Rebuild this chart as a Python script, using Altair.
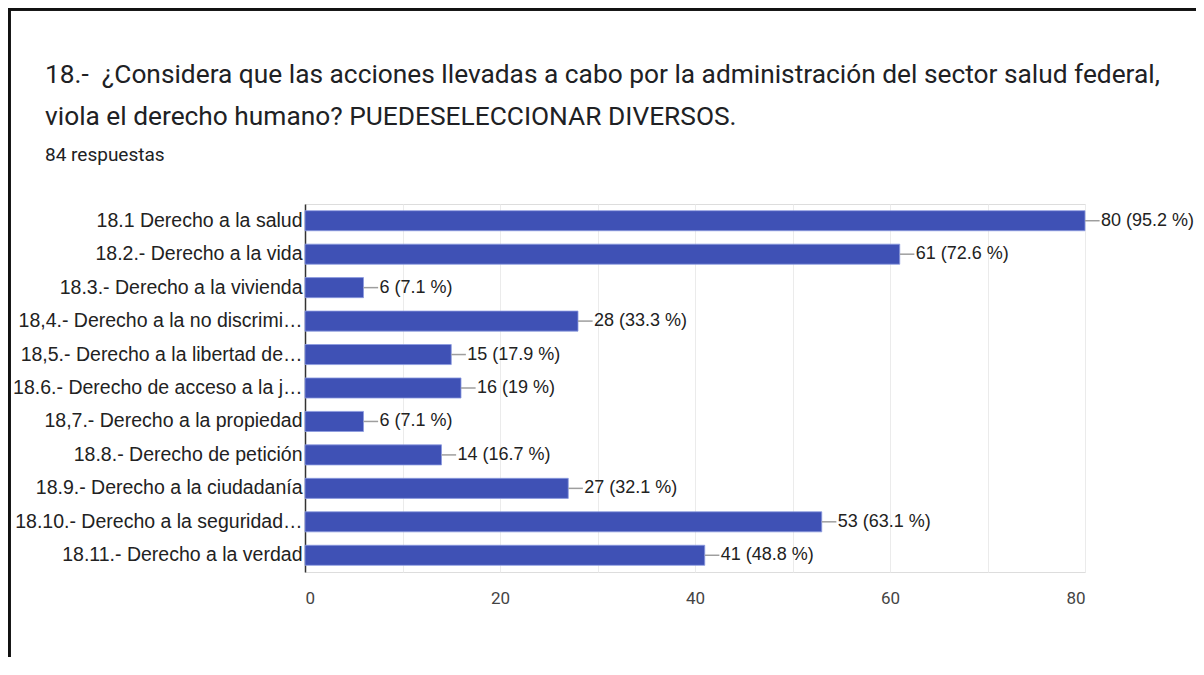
import altair as alt
import pandas as pd

categories = [
    "18.1 Derecho a la salud",
    "18.2.- Derecho a la vida",
    "18.3.- Derecho a la vivienda",
    "18,4.- Derecho a la no discrimi…",
    "18,5.- Derecho a la libertad de…",
    "18.6.- Derecho de acceso a la j…",
    "18,7.- Derecho a la propiedad",
    "18.8.- Derecho de petición",
    "18.9.- Derecho a la ciudadanía",
    "18.10.- Derecho a la seguridad…",
    "18.11.- Derecho a la verdad",
]
counts = [80, 61, 6, 28, 15, 16, 6, 14, 27, 53, 41]
percents = ["95.2", "72.6", "7.1", "33.3", "17.9", "19", "7.1", "16.7", "32.1", "63.1", "48.8"]
x_ticks = [0, 10, 20, 30, 40, 50, 60, 70, 80]
title_line1 = "18.-\u00a0 ¿Considera que las acciones llevadas a cabo por la administración del sector salud federal,"
title_line2 = "viola el derecho humano? PUEDESELECCIONAR DIVERSOS."
subtitle = "84 respuestas"

df = pd.DataFrame({
    "cat": categories,
    "count": counts,
    "label": [f"{c} ({p} %)" for c, p in zip(counts, percents)],
})

FONT = "Roboto"
LFONT = "Liberation Sans"
BAR = "#3f51b5"

base = alt.Chart(df)

y_enc = alt.Y(
    "cat:N", sort=categories, title=None,
    scale=alt.Scale(paddingInner=0.4, paddingOuter=0.2),
    axis=alt.Axis(labelFontSize=19.5, labelColor="#222222", labelFont=LFONT,
                  labelLimit=400, labelPadding=3, ticks=False,
                  domain=True, domainColor="#333333", domainWidth=1.5),
)
x_enc = alt.X(
    "count:Q", title=None,
    scale=alt.Scale(domain=[0, 80], nice=False),
    axis=alt.Axis(values=x_ticks, labelExpr="datum.value % 20 == 0 ? datum.label : ''",
                  grid=True, gridColor="#ebebeb", domain=False, ticks=False,
                  labelFontSize=17, labelColor="#444444", labelFont=FONT,
                  labelPadding=18),
)

bars = base.mark_bar(color=BAR, stroke="#8c9ae0", strokeWidth=0.8).encode(x=x_enc, y=y_enc)

connectors = base.transform_calculate(end="datum.count + 1.5").mark_rule(
    color="#9e9e9e", strokeWidth=1.5
).encode(x="count:Q", x2="end:Q", y=alt.Y("cat:N", sort=categories))

labels = base.mark_text(align="left", baseline="middle", dx=16, fontSize=18,
                        font=LFONT, color="#222222").encode(
    x="count:Q", y=alt.Y("cat:N", sort=categories), text="label:N")


def text_line(txt, y, size):
    return alt.Chart(pd.DataFrame({"t": [txt]})).mark_text(
        align="left", baseline="middle", fontSize=size, font=FONT, color="#202124"
    ).encode(x=alt.value(-260), y=alt.value(y), text="t:N")


t1 = text_line(title_line1, -129, 26.3)
t2 = text_line(title_line2, -87, 26.3)
t3 = text_line(subtitle, -49, 19)

frame_top = base.mark_rule(color="#111111", strokeWidth=2.5).encode(
    x=alt.value(-297), x2=alt.value(891), y=alt.value(-195), y2=alt.value(-195))
frame_left = base.mark_rule(color="#111111", strokeWidth=2.5).encode(
    x=alt.value(-296), x2=alt.value(-296), y=alt.value(-195), y2=alt.value(455))

chart = alt.layer(bars, connectors, labels, t1, t2, t3, frame_top, frame_left).properties(
    width=780,
    height=368,
    autosize=alt.AutoSizeParams(type="none"),
    padding={"left": 297, "top": 196, "right": 111, "bottom": 85},
).configure_view(stroke="#ebebeb").configure(background="white")

chart.save("out.html", embed_options={"renderer": "svg", "actions": False})
